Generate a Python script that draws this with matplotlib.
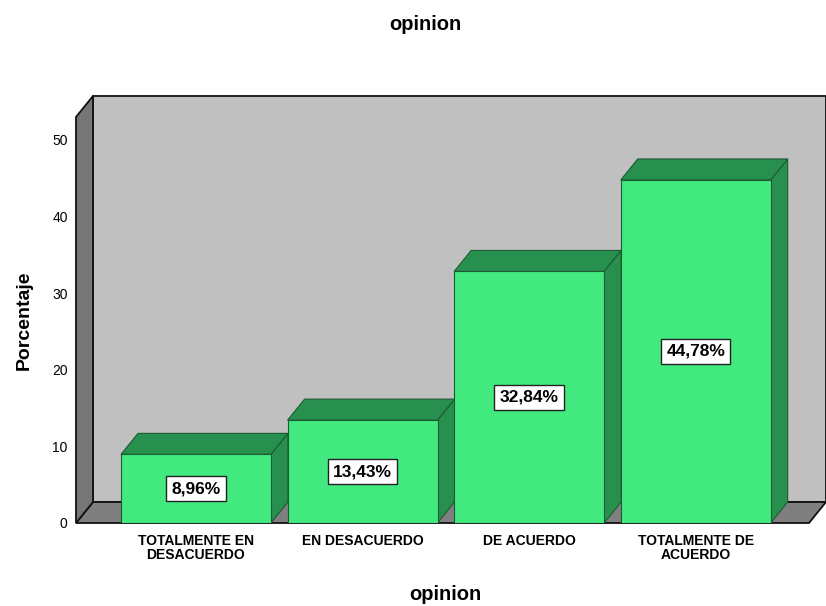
import matplotlib
matplotlib.use("Agg")
import matplotlib.pyplot as plt
from matplotlib.patches import Polygon, Rectangle

categories = ["TOTALMENTE EN\nDESACUERDO", "EN DESACUERDO", "DE ACUERDO", "TOTALMENTE DE\nACUERDO"]
percent = [8.96, 13.43, 32.84, 44.78]
value_labels = ["8,96%", "13,43%", "32,84%", "44,78%"]
y_ticks = [0, 10, 20, 30, 40, 50]

FRONT = "#41e97f"
SHADE = "#28904f"
EDGE = "#1d5a33"
WALL = "#c0c0c0"
SIDE_WALL = "#767676"
FLOOR = "#7f7f7f"

plain = ["Liberation Sans", "DejaVu Sans"]

W, H = 826, 606
fig = plt.figure(figsize=(W / 100, H / 100), dpi=100)
# front plane of the 3D box, in pixels
left_px, right_px, bottom_px, top_px = 76, 809, 523, 117
ax = fig.add_axes([left_px / W, 1 - bottom_px / H,
                   (right_px - left_px) / W, (bottom_px - top_px) / H])

xmin, xmax = -0.72, 3.68
ymin, ymax = 0, 53
ax.set_xlim(xmin, xmax)
ax.set_ylim(ymin, ymax)

# depth offset (17 px right, 21 px up) in data units
dx = 17 * (xmax - xmin) / (right_px - left_px)
dy = 21 * (ymax - ymin) / (bottom_px - top_px)

wall_kw = dict(closed=True, clip_on=False, linewidth=1.3, edgecolor="#111111")
ax.add_patch(Polygon([(xmin + dx, dy), (xmin + dx, ymax + dy), (xmax + dx, ymax + dy),
                      (xmax + dx, dy)], facecolor=WALL, zorder=1, **wall_kw))
ax.add_patch(Polygon([(xmin, 0), (xmax, 0), (xmax + dx, dy), (xmin + dx, dy)],
                     facecolor=FLOOR, zorder=2, **wall_kw))
ax.add_patch(Polygon([(xmin, 0), (xmin, ymax), (xmin + dx, ymax + dy), (xmin + dx, dy)],
                     facecolor=SIDE_WALL, zorder=2, **wall_kw))

width = 0.9
for i, v in enumerate(percent):
    x0, x1 = i - width / 2, i + width / 2
    ax.add_patch(Polygon([(x1, 0), (x1 + dx, dy), (x1 + dx, v + dy), (x1, v)],
                         facecolor=SHADE, edgecolor=EDGE, linewidth=0.8, zorder=3))
    ax.add_patch(Polygon([(x0, v), (x1, v), (x1 + dx, v + dy), (x0 + dx, v + dy)],
                         facecolor=SHADE, edgecolor=EDGE, linewidth=0.8, zorder=3))
    ax.add_patch(Rectangle((x0, 0), width, v, facecolor=FRONT, edgecolor=EDGE,
                           linewidth=0.8, zorder=4))
    ax.text(i, v / 2, value_labels[i], ha="center", va="center", fontsize=12.5,
            fontweight="bold", family=plain, zorder=5,
            bbox=dict(boxstyle="square,pad=0.3", facecolor="white",
                      edgecolor="#222222", linewidth=1.0))

ax.set_yticks(y_ticks)
ax.set_yticklabels([str(t) for t in y_ticks], family=plain, fontsize=10)
ax.set_xticks(range(len(categories)))
ax.set_xticklabels(categories, family=plain, fontsize=10, fontweight="bold",
                   linespacing=0.95)
ax.tick_params(axis="both", length=0)
ax.tick_params(axis="y", pad=6)
ax.tick_params(axis="x", pad=8)
for s in ax.spines.values():
    s.set_visible(False)
ax.patch.set_visible(False)

ax.set_ylabel("Porcentaje", family=plain, fontsize=14, fontweight="bold", labelpad=14)
fig.text(425 / W, 1 - 25 / H, "opinion", ha="center", va="center",
         family=plain, fontsize=14.5, fontweight="bold")
fig.text(445 / W, 1 - 595 / H, "opinion", ha="center", va="center",
         family=plain, fontsize=14.5, fontweight="bold")

fig.savefig("out.png", dpi=100)
